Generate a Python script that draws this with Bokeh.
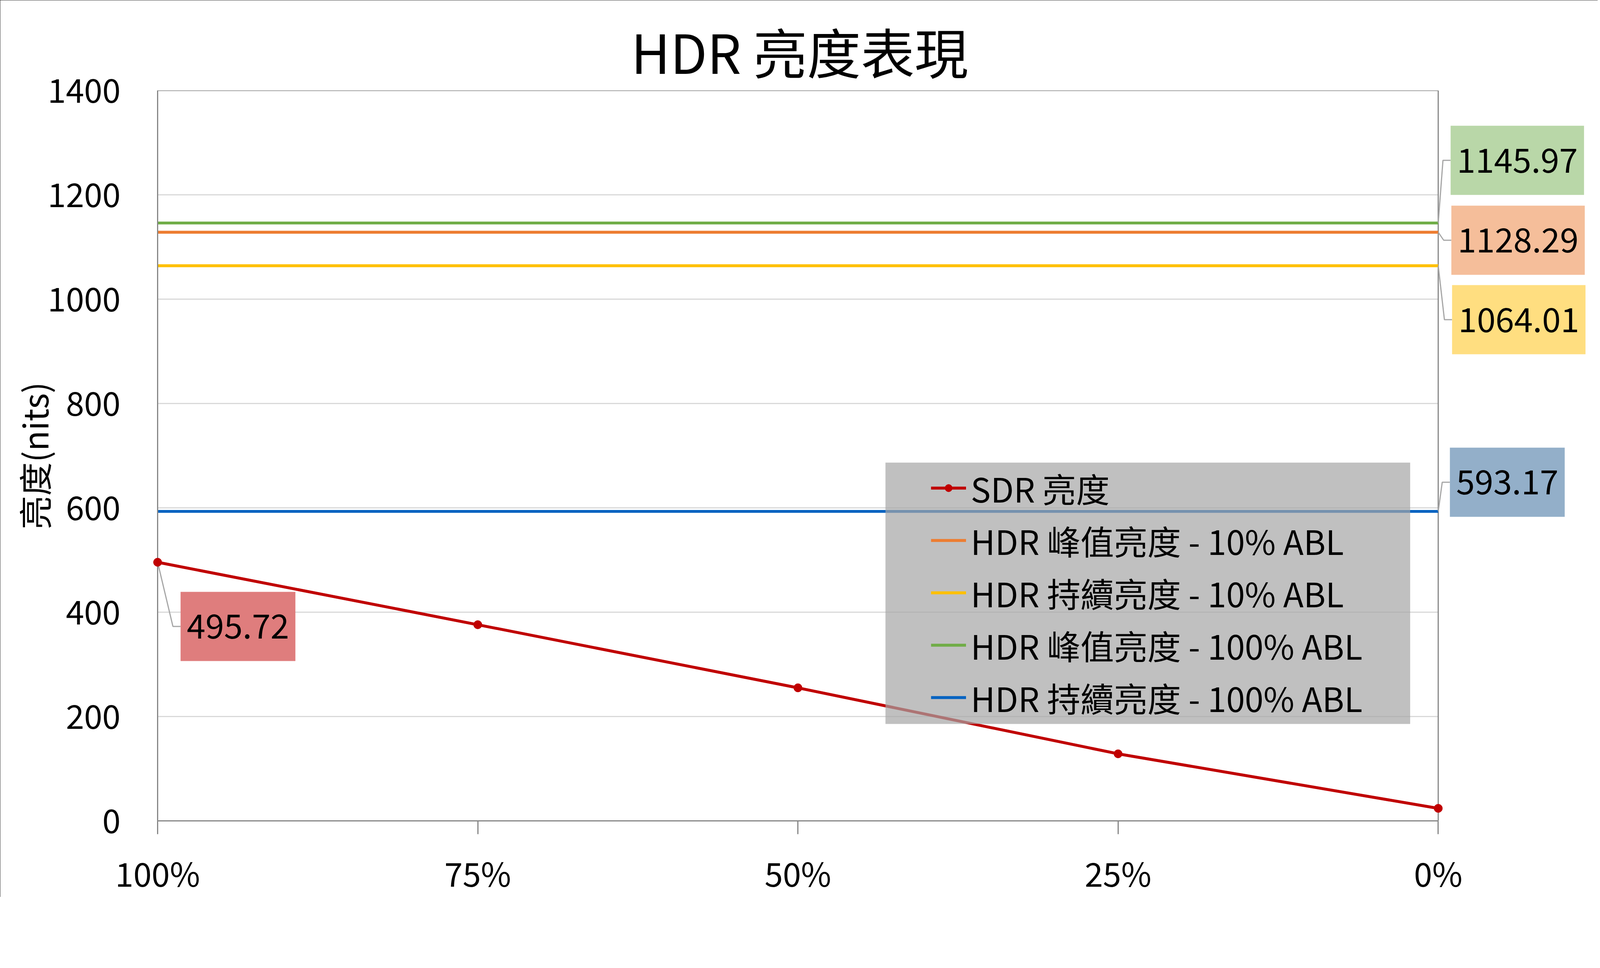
from bokeh.plotting import figure
from bokeh.models import Range1d, FixedTicker, Label, BoxAnnotation, Legend, LegendItem
from bokeh.embed import file_html
from bokeh.resources import INLINE

FONT = "Noto Sans CJK TC"

# ---------------- data ----------------
categories = ["100%", "75%", "50%", "25%", "0%"]
positions = [0, 1, 2, 3, 4]
sdr = [495.72, 376.0, 255.0, 128.5, 24.0]
hdr_peak_10 = [1128.29, 1128.29, 1128.29, 1128.29, 1128.29]
hdr_sustain_10 = [1064.01, 1064.01, 1064.01, 1064.01, 1064.01]
hdr_peak_100 = [1145.97, 1145.97, 1145.97, 1145.97, 1145.97]
hdr_sustain_100 = [593.17, 593.17, 593.17, 593.17, 593.17]
y_ticks = [0, 200, 400, 600, 800, 1000, 1200, 1400]
series_names = [
    "SDR 亮度",
    "HDR 峰值亮度 - 10% ABL",
    "HDR 持續亮度 - 10% ABL",
    "HDR 峰值亮度 - 100% ABL",
    "HDR 持續亮度 - 100% ABL",
]

# ---------------- layout / style ----------------
ZF = 1.072          # observed page scale of the photographed window
MARGIN = 8


def d(v):
    """size in reference pixels -> css pixels"""
    return v / ZF


def fx(v):
    """reference pixel position -> figure pixel"""
    return v / ZF - MARGIN


W, H = 4090, 2295
FL = round(fx(441))
FR = 6
FT = round(fx(256))
FB = H - round(fx(2260))
X0, XE = positions[0], positions[-1]          # x extent of the plotted axis
Y0, Y1 = y_ticks[0], y_ticks[-1]
sx = (fx(3955) - FL) / (XE - X0)               # px per x unit
sy = (H - FT - FB) / (Y1 - Y0)                 # px per y unit
X1 = X0 + (W - FL - FR) / sx                   # frame extends right to hold labels


def xdata(ref_x):
    return X0 + (fx(ref_x) - FL) / sx


def ydata(ref_y):
    return Y0 + (H - FB - fx(ref_y)) / sy


colors = ["#C00000", "#ED7D31", "#FFC000", "#70AD47", "#0563C1"]
AXIS_COLOR = "#868686"
GRID_COLOR = "#D9D9D9"
TICK_FS = f"{d(90):.1f}px"
TEXT_FS = f"{d(92):.1f}px"

p = figure(
    width=W, height=H,
    x_range=Range1d(X0, X1), y_range=Range1d(Y0, Y1),
    output_backend="svg", toolbar_location=None,
    min_border_left=FL, min_border_right=FR,
    min_border_top=FT, min_border_bottom=FB,
    title="HDR 亮度表現",
    background_fill_color="white", border_fill_color="white",
)
p.styles = {"outline": "4px solid black", "outline-offset": "-4px"}

p.title.align = "left"
p.title.offset = round(fx(1740) - FL)
p.title.text_font = FONT
p.title.text_font_size = f"{d(147.5):.1f}px"
p.title.text_font_style = "normal"
p.title.text_color = "black"
p.title.standoff = 5

p.outline_line_color = None

# axes
p.xaxis.ticker = FixedTicker(ticks=positions)
p.xaxis.major_label_overrides = {pos: cat for pos, cat in zip(positions, categories)}
p.xaxis.bounds = (X0, XE)
p.yaxis.ticker = FixedTicker(ticks=y_ticks)
for ax in (p.xaxis[0], p.yaxis[0]):
    ax.axis_line_color = AXIS_COLOR
    ax.axis_line_width = 3
    ax.major_label_text_font = FONT
    ax.major_label_text_font_size = TICK_FS
    ax.major_label_text_color = "black"
    ax.minor_tick_out = 0
    ax.minor_tick_in = 0
    ax.major_tick_in = 0
    ax.major_tick_line_color = AXIS_COLOR
    ax.major_tick_line_width = 3

p.xaxis.major_tick_out = round(d(36))
p.xaxis.major_label_standoff = 37
p.yaxis.major_tick_out = 0
p.yaxis.major_label_standoff = 95
p.yaxis.axis_label = "亮度(nits)"
p.yaxis.axis_label_text_font = FONT
p.yaxis.axis_label_text_font_size = TEXT_FS
p.yaxis.axis_label_text_font_style = "normal"
p.yaxis.axis_label_text_color = "black"
p.yaxis.axis_label_standoff = -30

p.xgrid.visible = False
p.ygrid.visible = False

# gridlines and plot-area border, limited to the axis extent
inner = y_ticks[1:-1]
p.segment(x0=[X0] * len(inner), y0=inner, x1=[XE] * len(inner), y1=inner,
          line_color=GRID_COLOR, line_width=3)
p.segment(x0=[X0, XE], y0=[Y1, Y0], x1=[XE, XE], y1=[Y1, Y1],
          line_color=AXIS_COLOR, line_width=3)

# ---------------- series ----------------
all_series = [sdr, hdr_peak_10, hdr_sustain_10, hdr_peak_100, hdr_sustain_100]
legend_items = []
for name, vals, col in zip(series_names, all_series, colors):
    r = p.line(positions, vals, line_color=col, line_width=d(8))
    rs = [r]
    if vals is sdr:
        m = p.scatter(positions, vals, size=d(23), color=col, level="overlay")
        rs.append(m)
    legend_items.append(LegendItem(label=name, renderers=rs))

# ---------------- data labels ----------------
PADX, PADY = 16, 57
label_specs = [
    # values, index, fill, box dx, box dy (reference px from point, +dy = up)
    (sdr, 0, "#DF7D7D", 63, -176),
    (hdr_peak_10, 4, "#F5BE9A", 36, -22),
    (hdr_sustain_10, 4, "#FFDE80", 38, -148),
    (hdr_peak_100, 4, "#B9D7A8", 34, 172),
    (hdr_sustain_100, 4, "#93AFC9", 32, 80),
]
lx, ly = [], []
for vals, i, fill, dx, dy in label_specs:
    xp, yp = positions[i], vals[i]
    lx.append([xp, xp + d(dx - 21) / sx, xp + d(dx) / sx])
    ly.append([yp, yp + d(dy) / sy, yp + d(dy) / sy])
p.multi_line(lx, ly, line_color="#A6A6A6", line_width=3, level="annotation")

for vals, i, fill, dx, dy in label_specs:
    p.add_layout(Label(
        x=positions[i], y=vals[i], x_offset=d(dx), y_offset=d(dy),
        text=f"{vals[i]:.2f}", text_font=FONT, text_font_size=TEXT_FS,
        text_color="black", text_align="left", text_baseline="middle",
        background_fill_color=fill,
        padding=dict(left=PADX, right=PADX, top=PADY, bottom=PADY),
    ))

# ---------------- legend ----------------
p.add_layout(BoxAnnotation(
    left=xdata(2438), right=xdata(3878), top=ydata(1277), bottom=ydata(1994),
    fill_color="#A5A5A5", fill_alpha=0.7, line_alpha=0,
))
legend = Legend(
    items=legend_items,
    location=(round(fx(2563) - FL), round(H - FB - fx(1989))),
    label_text_font=FONT, label_text_font_size=TEXT_FS, label_text_color="black",
    label_height=20, glyph_height=47, glyph_width=round(d(97)), label_standoff=12,
    spacing=9, padding=0, margin=0,
    background_fill_alpha=0, border_line_alpha=0,
)
p.add_layout(legend)

open("out.html", "w").write(file_html(p, INLINE))
